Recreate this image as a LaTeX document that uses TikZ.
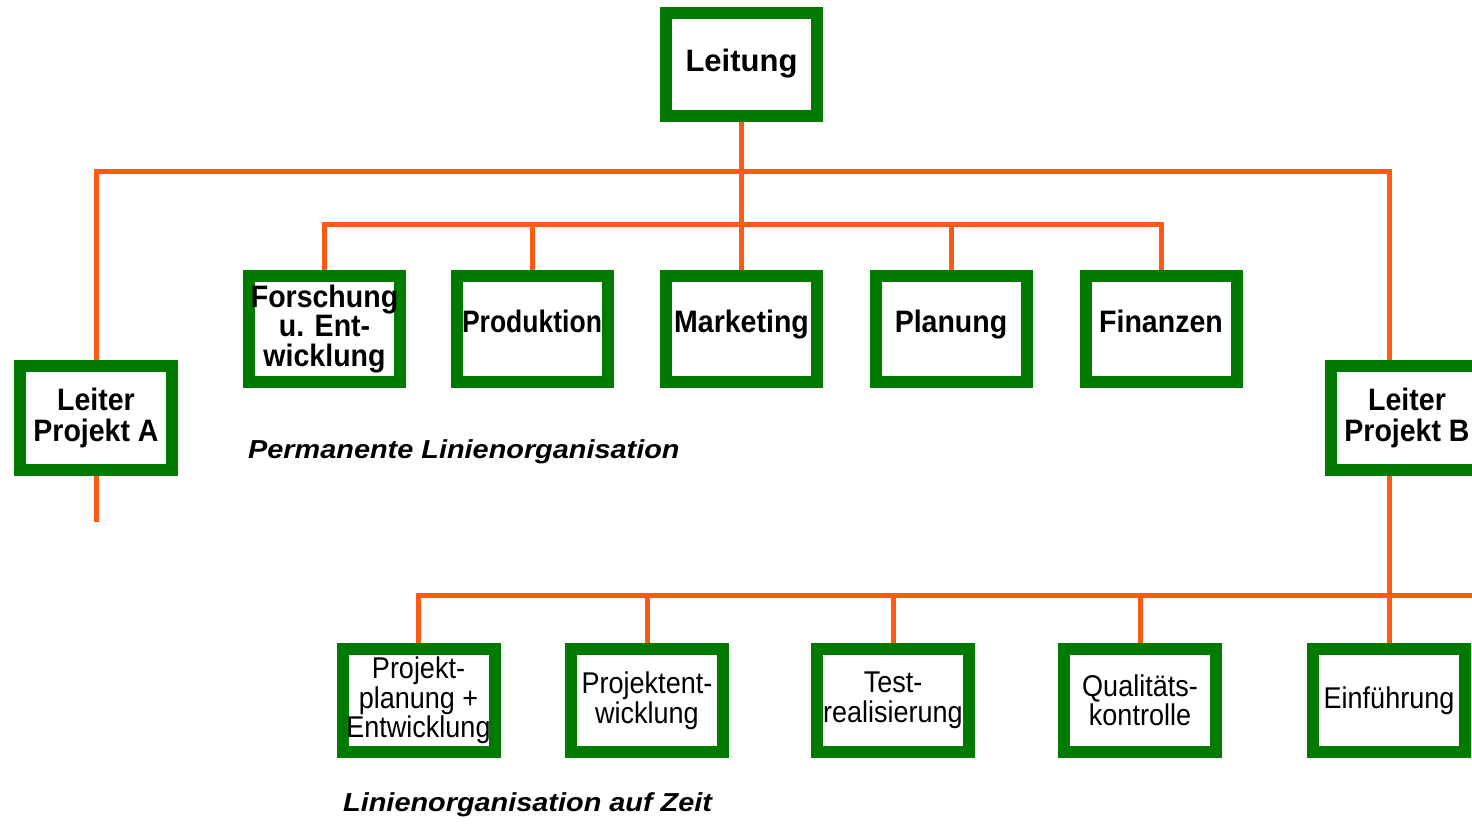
\documentclass[tikz,border=0pt]{standalone}
\usepackage{fontspec}
\setmainfont{Liberation Sans}
\newfontfamily\headfont[FakeStretch=0.92]{Liberation Sans}
\newfontfamily\topfont{Liberation Sans}
\newfontfamily\teamfont[FakeStretch=0.9]{Liberation Sans}
\newfontfamily\captionfont[FakeStretch=1.11]{Liberation Sans}
\definecolor{boxgreen}{RGB}{0,123,0}
\definecolor{linkorange}{RGB}{255,90,20}

\begin{document}
\begin{tikzpicture}[x=1pt,y=-1pt,
  unit/.style={draw=boxgreen, line width=12pt, fill=white, inner sep=0pt,
    minimum width=152pt, minimum height=103pt, align=center, text=black},
  dept/.style={unit, minimum width=151pt, minimum height=106pt,
    font=\headfont\bfseries\fontsize{31}{29.5}\selectfont},
  oneline/.style={text height=22pt, text depth=16pt},
  lead/.style={unit, minimum height=104pt,
    font=\headfont\bfseries\fontsize{31}{31}\selectfont},
  team/.style={unit, font=\teamfont\fontsize{30}{29.5}\selectfont},
  conn/.style={draw=linkorange, line width=5pt},
  caption/.style={anchor=base west, inner sep=0pt,
    font=\captionfont\bfseries\itshape\fontsize{26}{28}\selectfont}
]
\useasboundingbox (0,0) rectangle (1472,824);

% head of the organisation
\node[unit, minimum width=151pt, text height=22pt, text depth=7pt,
  font=\topfont\bfseries\fontsize{31}{30}\selectfont]
  (leitung) at (741.5,64.5) {Leitung};

% permanent departments
\node[dept] (fue)  at (324.5,329) {Forschung\\u. Ent-\\wicklung};
\node[dept, oneline] (prod) at (532,329)   {\scalebox{0.93}[1]{Produktion}};
\node[dept, oneline] (mkt)  at (741.5,329) {Marketing};
\node[dept, oneline] (plan) at (951,329)   {Planung};
\node[dept, oneline] (fin)  at (1161,329)  {Finanzen};

% project leaders
\node[lead] (pla) at (96,418)   {Leiter\\Projekt A};
\node[lead] (plb) at (1407,418) {Leiter\\Projekt B};

% project team of B
\node[team] (pplan) at (418.5,700.5) {Projekt-\\planung +\\Entwicklung};
\node[team] (pent)  at (647,700.5)   {Projektent-\\wicklung};
\node[team] (test)  at (893,700.5)   {Test-\\realisierung};
\node[team] (qual)  at (1140,700.5)  {Qualitäts-\\kontrolle};
\node[team] (einf)  at (1389,700.5)  {Einführung};

% captions
\node[caption] (capperm) at (248,458) {Permanente Linienorganisation};
\node[caption] (capzeit) at (343,811) {Linienorganisation auf Zeit};

% junction points of the line system
\coordinate (h1) at (741.5,171);
\coordinate (h2) at (741.5,224);
\coordinate (h3) at (1472,595);
\coordinate (taila) at (96,522);

% connectors
\draw[conn] (leitung.south) -- (mkt.north);
\draw[conn] (pla.north) |- (h1) -| (einf.north |- plb.north);
\draw[conn] (fue.north) |- (h2) -| (fin.north);
\draw[conn] (prod.north) -- (prod.north |- h2);
\draw[conn] (plan.north) -- (plan.north |- h2);
\draw[conn] (pla.south) -- (taila);
\draw[conn] (einf.north |- plb.south) -- (einf.north);
\draw[conn] (pplan.north) |- (h3);
\draw[conn] (pent.north) -- (pent.north |- h3);
\draw[conn] (test.north) -- (test.north |- h3);
\draw[conn] (qual.north) -- (qual.north |- h3);
\end{tikzpicture}
\end{document}
